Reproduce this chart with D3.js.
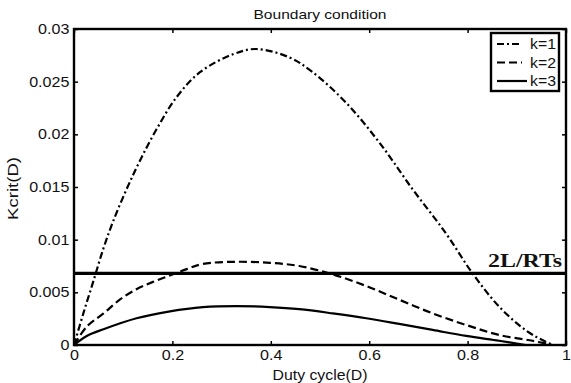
<!DOCTYPE html>
<html>
<head>
<meta charset="utf-8">
<script src="https://cdn.jsdelivr.net/npm/d3@7"></script>
<style>
  body { margin: 0; background: #fff; }
  svg { display: block; }
</style>
</head>
<body>
<div id="box"></div>
<script>
// values
var xTicks = [0, 0.2, 0.4, 0.6, 0.8, 1];
var yTicks = [0, 0.005, 0.01, 0.015, 0.02, 0.025, 0.03];
var xTickLabels = ["0", "0.2", "0.4", "0.6", "0.8", "1"];
var yTickLabels = ["0", "0.005", "0.01", "0.015", "0.02", "0.025", "0.03"];

var k1D = [0, 0.019, 0.039, 0.06, 0.08, 0.107, 0.134, 0.168, 0.208, 0.256, 0.323, 0.37, 0.438, 0.485, 0.553, 0.621, 0.688, 0.756, 0.81, 0.864, 0.918, 0.959, 0.974];
var k1V = [0, 0.0030, 0.0060, 0.0092, 0.0118, 0.0148, 0.0175, 0.0205, 0.0235, 0.0259, 0.0276, 0.0281, 0.0273, 0.0259, 0.0230, 0.0192, 0.0148, 0.0106, 0.0068, 0.00365, 0.0014, 0.0003, 0];

var k2D = [0, 0.026, 0.06, 0.093, 0.127, 0.161, 0.195, 0.229, 0.262, 0.33, 0.398, 0.458, 0.526, 0.594, 0.661, 0.729, 0.797, 0.864, 0.932, 0.972];
var k2V = [0, 0.00175, 0.0030, 0.0043, 0.0053, 0.0060, 0.0066, 0.0072, 0.0077, 0.0079, 0.0078, 0.0075, 0.0067, 0.0056, 0.0043, 0.0030, 0.0019, 0.00095, 0.0004, 0];

var k3D = [0, 0.026, 0.06, 0.127, 0.195, 0.262, 0.33, 0.398, 0.458, 0.526, 0.594, 0.661, 0.729, 0.797, 0.864, 0.918];
var k3V = [0, 0.00086, 0.0015, 0.00254, 0.0032, 0.0036, 0.0037, 0.0036, 0.0034, 0.0030, 0.00254, 0.0020, 0.00143, 0.00086, 0.0004, 0];

var threshold = 0.0068;

var seriesNames = ["k=1", "k=2", "k=3"];
var seriesDash = ["7,3,2,3", "8,4", null];

var W = 571, H = 383;
var m = { left: 74, top: 29 },
    w = 492,
    h = 316;
var sans = "Arial, 'Liberation Sans', sans-serif";

var svg = d3.select("#box")
            .append("svg")
            .attr("width", W)
            .attr("height", H)
            .attr("font-family", sans)
            .attr("fill", "#111");

var g = svg.append("g")
           .attr("transform", "translate(" + m.left + "," + m.top + ")");

var x = d3.scaleLinear().domain([0, 1]).range([0, w]);
var y = d3.scaleLinear().domain([0, 0.03]).range([h, 0]);

var series = [
  d3.zip(k1D, k1V),
  d3.zip(k2D, k2V),
  d3.zip(k3D, k3V)
];

var line = d3.line()
             .x(function(d) { return x(d[0]); })
             .y(function(d) { return y(d[1]); })
             .curve(d3.curveCatmullRom.alpha(0.5));

g.selectAll("path.curve")
 .data(series)
 .enter()
 .append("path")
 .attr("class", "curve")
 .attr("d", line)
 .attr("fill", "none")
 .attr("stroke", "#000")
 .attr("stroke-width", 2.2)
 .attr("stroke-dasharray", function(d, i) { return seriesDash[i]; });

// 2L/RTs level
g.append("line")
 .attr("x1", x(0)).attr("x2", x(1))
 .attr("y1", y(threshold)).attr("y2", y(threshold))
 .attr("stroke", "#000")
 .attr("stroke-width", 3.2);

g.append("text")
 .attr("x", x(1) - 4)
 .attr("y", y(threshold) - 6)
 .attr("text-anchor", "end")
 .attr("font-family", "'Liberation Serif', 'Times New Roman', serif")
 .attr("font-weight", "bold")
 .attr("font-size", "19px")
 .attr("textLength", 74)
 .attr("lengthAdjust", "spacingAndGlyphs")
 .text("2L/RTs");

// axes with inward ticks
g.append("g")
 .attr("transform", "translate(0," + h + ")")
 .call(d3.axisBottom(x).tickValues(xTicks)
         .tickFormat(function(d, i) { return xTickLabels[i]; })
         .tickSize(-4).tickPadding(5));
g.append("g")
 .call(d3.axisLeft(y).tickValues(yTicks)
         .tickFormat(function(d, i) { return yTickLabels[i]; })
         .tickSize(-4).tickPadding(4));
g.append("g")
 .call(d3.axisTop(x).tickValues(xTicks).tickFormat("").tickSize(-4));
g.append("g")
 .attr("transform", "translate(" + w + ",0)")
 .call(d3.axisRight(y).tickValues(yTicks).tickFormat("").tickSize(-4));

g.selectAll(".domain").remove();
g.selectAll(".tick line").attr("stroke", "#000").attr("stroke-width", 1.5);
g.selectAll(".tick text")
 .attr("font-size", "14px")
 .attr("fill", "#111")
 .attr("font-family", sans)
 .attr("transform", "scale(1.15,1)");

// frame
g.append("rect")
 .attr("x", 0).attr("y", 0)
 .attr("width", w).attr("height", h)
 .attr("fill", "none")
 .attr("stroke", "#000")
 .attr("stroke-width", 2.4);

// legend
var lg = g.append("g")
          .attr("transform", "translate(" + (491 - m.left) + "," + (33 - m.top) + ")");
lg.append("rect")
  .attr("width", 68).attr("height", 58)
  .attr("fill", "#fff")
  .attr("stroke", "#000")
  .attr("stroke-width", 2.4);

var items = lg.selectAll("g.item")
              .data(seriesNames)
              .enter()
              .append("g")
              .attr("class", "item")
              .attr("transform", function(d, i) { return "translate(0," + (11 + i * 18.5) + ")"; });
items.append("line")
     .attr("x1", 6).attr("x2", function(d, i) { return i == 2 ? 36 : 31; })
     .attr("y1", 0).attr("y2", 0)
     .attr("stroke", "#000")
     .attr("stroke-width", 2.2)
     .attr("stroke-dasharray", function(d, i) { return seriesDash[i]; });
items.append("text")
     .attr("x", 39)
     .attr("y", 5)
     .attr("font-size", "14px")
     .attr("textLength", 26)
     .attr("lengthAdjust", "spacingAndGlyphs")
     .text(function(d) { return d; });

// titles
svg.append("text")
   .attr("x", m.left + w / 2)
   .attr("y", 18.5)
   .attr("text-anchor", "middle")
   .attr("font-size", "13px")
   .attr("textLength", 133)
   .attr("lengthAdjust", "spacingAndGlyphs")
   .text("Boundary condition");

svg.append("text")
   .attr("x", m.left + w / 2)
   .attr("y", 380)
   .attr("text-anchor", "middle")
   .attr("font-size", "14px")
   .attr("textLength", 95)
   .attr("lengthAdjust", "spacingAndGlyphs")
   .text("Duty cycle(D)");

svg.append("text")
   .attr("transform", "translate(18," + 188.5 + ") rotate(-90)")
   .attr("text-anchor", "middle")
   .attr("font-size", "14px")
   .attr("textLength", 63)
   .attr("lengthAdjust", "spacingAndGlyphs")
   .text("Kcrit(D)");
</script>
</body>
</html>
